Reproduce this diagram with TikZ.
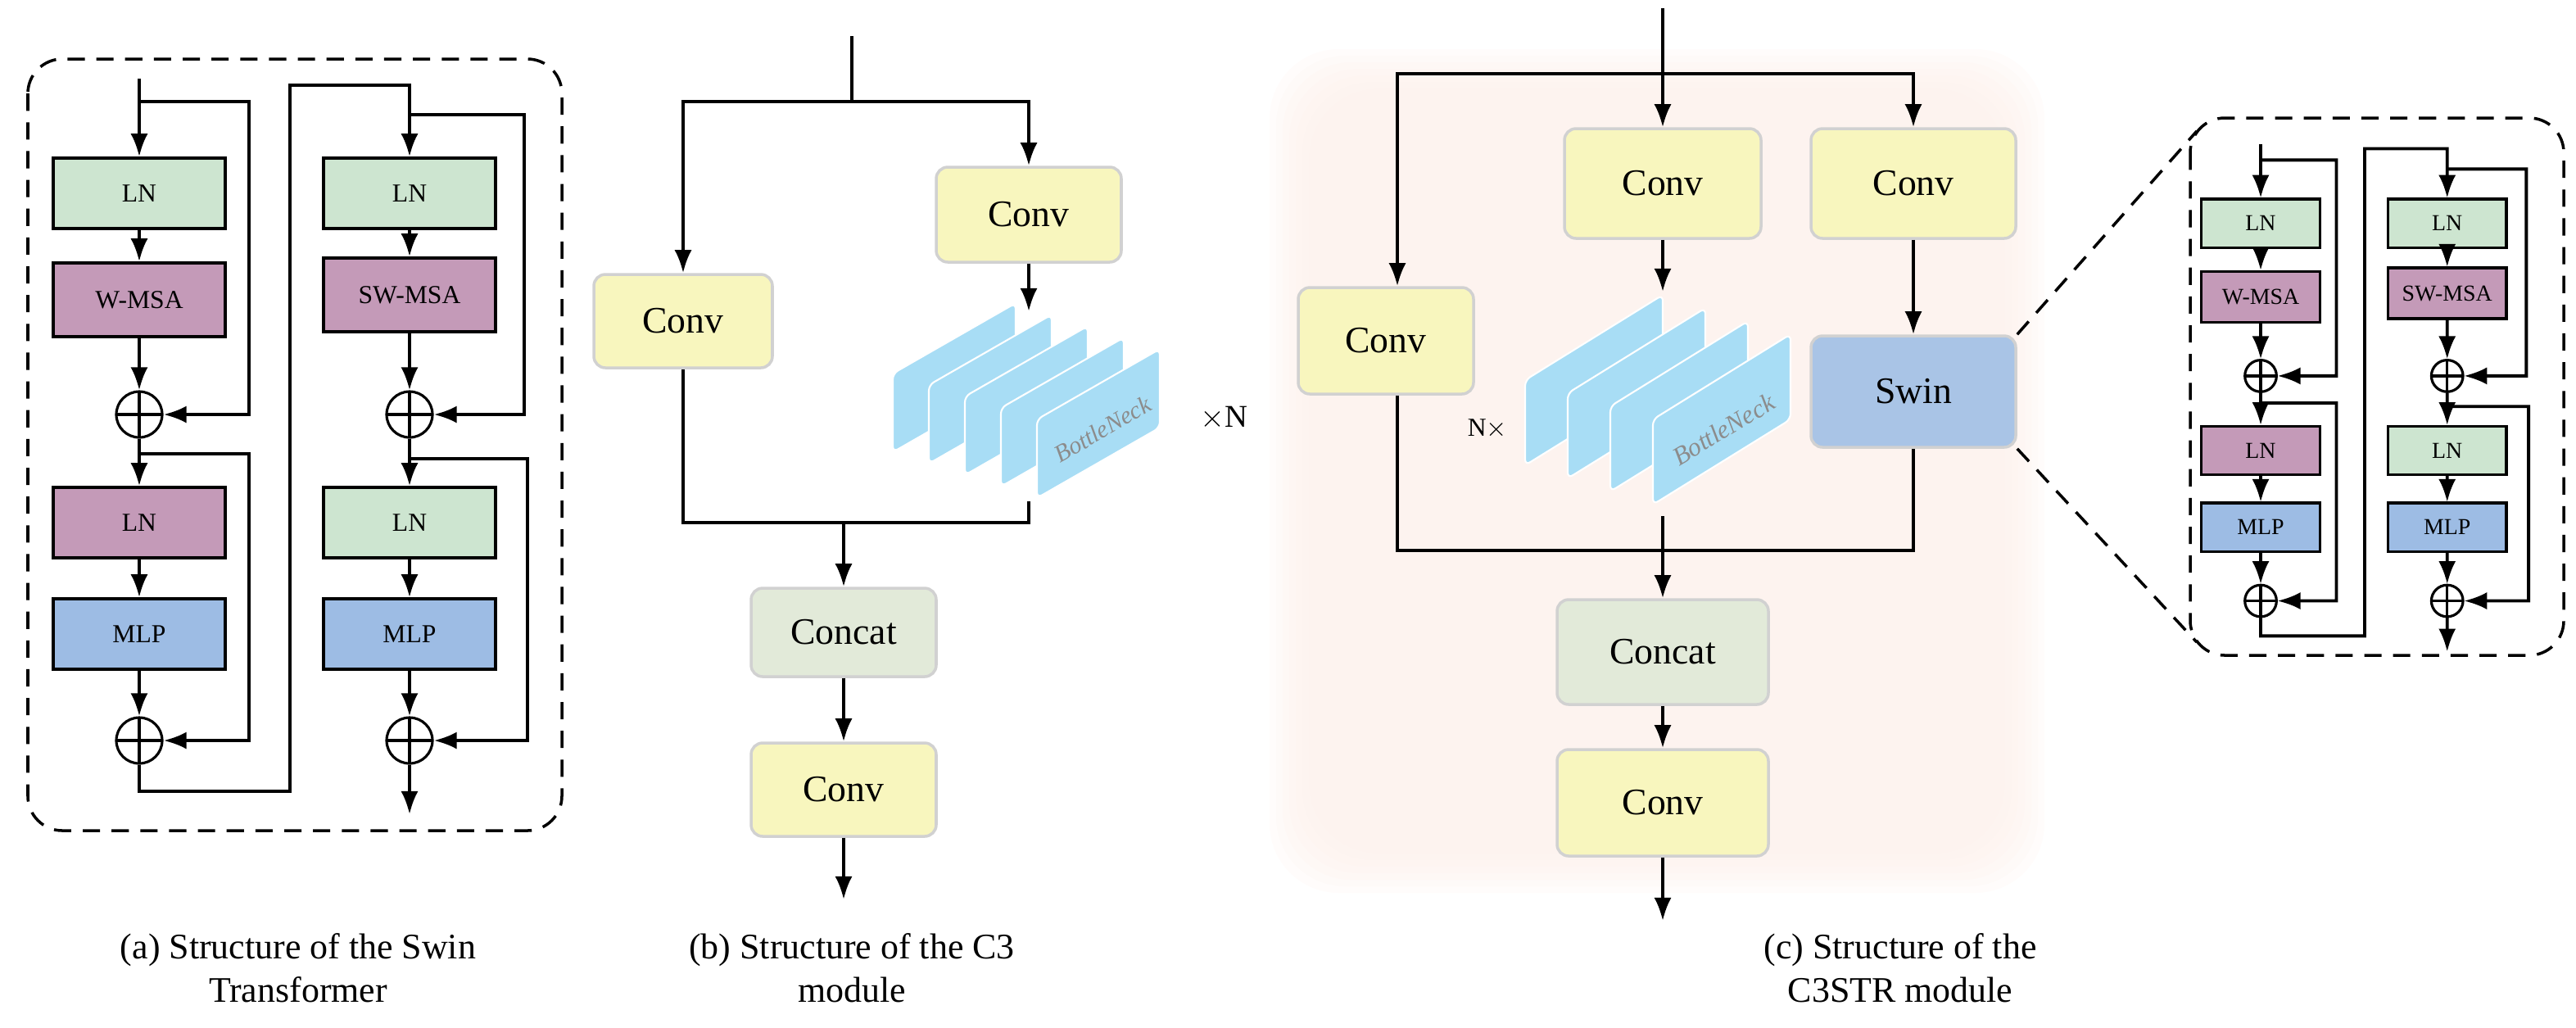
\documentclass[tikz,border=0pt]{standalone}
\usepackage{fontspec}
\setmainfont{Liberation Serif}
\usetikzlibrary{arrows.meta,positioning}
\definecolor{lnG}{HTML}{CDE5D0}
\definecolor{msaP}{HTML}{C49AB8}
\definecolor{mlpB}{HTML}{9DBCE4}
\definecolor{convY}{HTML}{F8F6BE}
\definecolor{catG}{HTML}{E2EAD9}
\definecolor{swinB}{HTML}{A9C4E6}
\definecolor{neckB}{HTML}{A8DDF5}
\definecolor{glowP}{HTML}{FDF1EC}
\tikzset{
  blk/.style={draw, line width=1pt, minimum width=2.1cm, minimum height=0.86cm, inner sep=0pt, font=\fontsize{9}{10}\selectfont},
  plus/.style={draw, line width=0.9pt, circle, minimum size=0.56cm, inner sep=0pt,
    path picture={\draw[line width=0.9pt] (path picture bounding box.north) -- (path picture bounding box.south)
      (path picture bounding box.west) -- (path picture bounding box.east);}},
  mod/.style={draw=black!18, line width=1pt, rounded corners=4pt, minimum width=2.2cm, minimum height=1.2cm, font=\fontsize{13}{14}\selectfont},
  wire/.style={line width=1.1pt},
  arr/.style={line width=1.1pt, -{Latex[length=8pt,width=6pt]}},
  slab/.style={fill=neckB, draw=white, line width=0.6pt, rounded corners=2pt},
  frame/.style={line width=1pt, dash pattern=on 6pt off 4pt},
  captxt/.style={align=center, font=\fontsize{12.5}{15}\selectfont}
}
% one Swin Transformer block, local origin at the input line
\newcommand\swinBlock[1]{
  \coordinate (#1in) at (0,0);
  \node[blk, fill=lnG] (#1ln1) at (0,70) {LN};
  \node[blk, fill=msaP, minimum height=0.9cm] (#1msa) at (0,135) {W-MSA};
  \node[plus] (#1p1) at (0,205) {};
  \node[blk, fill=msaP] (#1ln2) at (0,271) {LN};
  \node[blk, fill=mlpB] (#1mlp) at (0,339) {MLP};
  \node[plus] (#1p2) at (0,404) {};
  \node[blk, fill=lnG] (#1ln3) at (165,70) {LN};
  \node[blk, fill=msaP, minimum height=0.9cm] (#1smsa) at (165,132) {SW-MSA};
  \node[plus] (#1p3) at (165,205) {};
  \node[blk, fill=lnG] (#1ln4) at (165,271) {LN};
  \node[blk, fill=mlpB] (#1mlp2) at (165,339) {MLP};
  \node[plus] (#1p4) at (165,404) {};
  \coordinate (#1out) at (165,449);
  %% main path
  \draw[arr] (#1in) -- (#1ln1);
  \draw[arr] (#1ln1) -- (#1msa);
  \draw[arr] (#1msa) -- (#1p1);
  \draw[arr] (#1p1) -- (#1ln2);
  \draw[arr] (#1ln2) -- (#1mlp);
  \draw[arr] (#1mlp) -- (#1p2);
  \draw[arr] (#1p2.south) -- (0,435) -- (92,435) -- (92,4) -- (165,4) -- (#1ln3);
  \draw[arr] (#1ln3) -- (#1smsa);
  \draw[arr] (#1smsa) -- (#1p3);
  \draw[arr] (#1p3) -- (#1ln4);
  \draw[arr] (#1ln4) -- (#1mlp2);
  \draw[arr] (#1mlp2) -- (#1p4);
  \draw[arr] (#1p4) -- (#1out);
  %% residual paths
  \draw[arr] (0,14) -- (67,14) -- (67,205) -- (#1p1);
  \draw[arr] (0,229) -- (67,229) -- (67,404) -- (#1p2);
  \draw[arr] (165,22) -- (235,22) -- (235,205) -- (#1p3);
  \draw[arr] (165,232) -- (237,232) -- (237,404) -- (#1p4);
}
\begin{document}
\begin{tikzpicture}[x=0.02cm, y=-0.02cm]
  \useasboundingbox (0,0) rectangle (1572.5,627);

  %% (a) Swin Transformer
  \draw[frame, rounded corners=12pt] (17,36) rectangle (343,507);
  \begin{scope}[shift={(85,48)}]
    \swinBlock{a}
  \end{scope}
  \node[captxt] (capA) at (182,591) {(a) Structure of the Swin\\Transformer};

  %% (b) C3
  \coordinate (bIn) at (520,22);
  \coordinate (bSplit) at (520,62);
  \node[mod, fill=convY, minimum width=2.18cm, minimum height=1.14cm] (bConvL) at (417,196) {Conv};
  \node[mod, fill=convY, minimum width=2.26cm, minimum height=1.16cm] (bConvR) at (628,131) {Conv};
  \foreach \i in {0,...,4}{
    \fill[slab, shift={(22*\i,7*\i)}] (545,276) -- (545,228) -- (620,185) -- (620,233) -- cycle;
  }
  \node[rotate=30, inner sep=0pt, font=\fontsize{8.5}{9}\selectfont\itshape, text=black!45] (bNeck) at (673,262) {BottleNeck};
  \node[font=\fontsize{11}{12}\selectfont] (bTimes) at (747,255) {$\times$N};
  \coordinate (bNeckTop) at (628,190);
  \coordinate (bNeckBot) at (628,306);
  \coordinate (bJoin) at (515,319);
  \node[mod, fill=catG, minimum width=2.26cm, minimum height=1.08cm] (bCat) at (515,386) {Concat};
  \node[mod, fill=convY, minimum width=2.26cm, minimum height=1.14cm] (bConv) at (515,482) {Conv};
  \coordinate (bOut) at (515,549);
  \draw[wire] (bIn) -- (bSplit);
  \draw[arr] (bSplit) -| (bConvL);
  \draw[arr] (bSplit) -| (bConvR);
  \draw[arr] (bConvR) -- (bNeckTop);
  \draw[wire] (bConvL) |- (bJoin) -| (bNeckBot);
  \draw[arr] (bJoin) -- (bCat);
  \draw[arr] (bCat) -- (bConv);
  \draw[arr] (bConv) -- (bOut);
  \node[captxt] (capB) at (520,591) {(b) Structure of the C3\\module};

  %% (c) C3STR
  \foreach \k in {0,4,...,28}{
    \fill[glowP, opacity=0.22, rounded corners=24pt] (775+\k,30+\k) rectangle (1248-\k,545-\k);
  }
  \coordinate (cIn) at (1015,5);
  \coordinate (cSplit) at (1015,45);
  \coordinate (cLeft) at (853,45);
  \node[mod, fill=convY, minimum width=2.14cm, minimum height=1.3cm] (cConvL) at (846,208) {Conv};
  \node[mod, fill=convY, minimum width=2.4cm, minimum height=1.34cm] (cConvM) at (1015,112) {Conv};
  \node[mod, fill=convY, minimum width=2.5cm, minimum height=1.34cm] (cConvR) at (1168,112) {Conv};
  \foreach \i in {0,...,3}{
    \fill[slab, shift={(26*\i,8*\i)}] (931,284) -- (931,232) -- (1015,180) -- (1015,232) -- cycle;
  }
  \node[rotate=31, inner sep=0pt, font=\fontsize{9}{10}\selectfont\itshape, text=black!45] (cNeck) at (1052,262) {BottleNeck};
  \node[font=\fontsize{9}{10}\selectfont] (cTimes) at (908,262) {N$\times$};
  \node[mod, fill=swinB, minimum width=2.5cm, minimum height=1.36cm] (cSwin) at (1168,239) {Swin};
  \coordinate (cNeckTop) at (1015,178);
  \coordinate (cNeckBot) at (1015,315);
  \coordinate (cJoin) at (1015,336);
  \node[mod, fill=catG, minimum width=2.58cm, minimum height=1.28cm] (cCat) at (1015,398) {Concat};
  \node[mod, fill=convY, minimum width=2.58cm, minimum height=1.3cm] (cConv) at (1015,490) {Conv};
  \coordinate (cOut) at (1015,562);
  \draw[wire] (cIn) -- (cSplit);
  \draw[arr] (cSplit) -- (cConvM);
  \draw[arr] (cSplit) -- (cLeft) -- (cLeft |- cConvL.north);
  \draw[arr] (cSplit) -| (cConvR);
  \draw[arr] (cConvM) -- (cNeckTop);
  \draw[arr] (cConvR) -- (cSwin);
  \draw[wire] (cLeft |- cConvL.south) -- (cLeft |- cJoin) -- (cJoin -| cSwin) -- (cSwin.south);
  \draw[arr] (cNeckBot) -- (cCat);
  \draw[arr] (cCat) -- (cConv);
  \draw[arr] (cConv) -- (cOut);
  \node[captxt] (capC) at (1160,591) {(c) Structure of the\\C3STR module};

  %% zoomed Swin block
  \draw[frame, rounded corners=12pt] (1337,72) rectangle (1565,400);
  \draw[frame] (cSwin.north east) -- (1341,80);
  \draw[frame] (cSwin.south east) -- (1341,392);
  \begin{scope}[shift={(1380,88)}, scale=0.69, transform shape, blk/.append style={font=\fontsize{11.5}{12}\selectfont}]
    \swinBlock{z}
  \end{scope}
\end{tikzpicture}
\end{document}
